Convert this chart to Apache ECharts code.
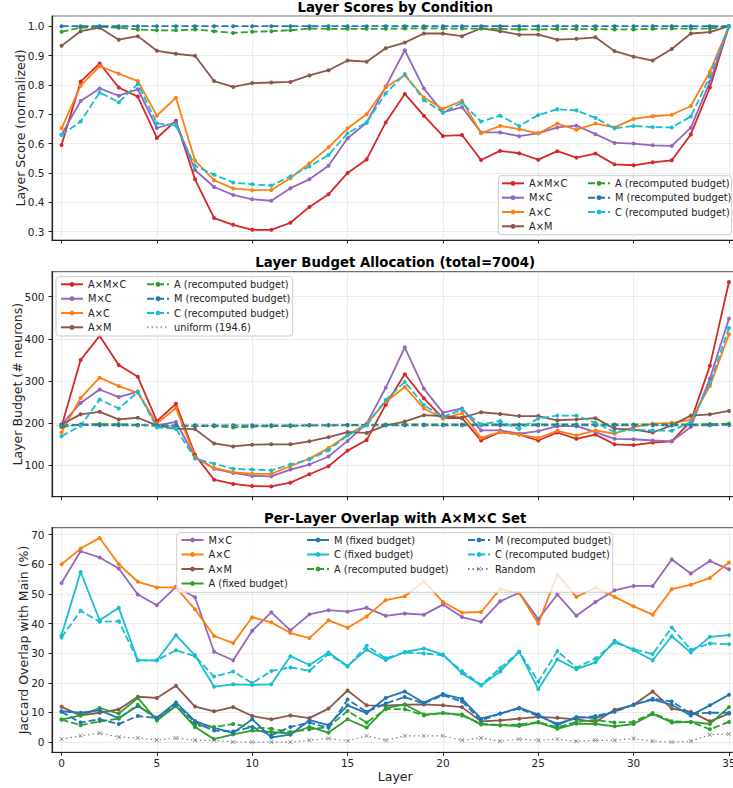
<!DOCTYPE html>
<html>
<head>
<meta charset="utf-8">
<script src="https://cdn.jsdelivr.net/npm/echarts@6/dist/echarts.min.js"></script>
<style>
  html, body { margin: 0; padding: 0; background: #ffffff; }
  #chart { width: 733px; height: 788px; }
</style>
</head>
<body>
<div id="chart"></div>
<script>
// ---- data -------------------------------------------------------------
const layers = [0,1,2,3,4,5,6,7,8,9,10,11,12,13,14,15,16,17,18,19,20,21,22,23,24,25,26,27,28,29,30,31,32,33,34,35];
const layerTicks = [0,5,10,15,20,25,30,35];

// Layer scores (normalized)
const scoreAMC = [0.595,0.811,0.873,0.791,0.760,0.619,0.678,0.478,0.346,0.323,0.306,0.306,0.330,0.384,0.427,0.500,0.546,0.672,0.769,0.695,0.626,0.629,0.544,0.575,0.567,0.545,0.574,0.552,0.566,0.529,0.526,0.536,0.543,0.631,0.791,1.000];
const scoreMC  = [0.630,0.745,0.788,0.763,0.785,0.653,0.672,0.510,0.452,0.425,0.410,0.405,0.448,0.478,0.524,0.618,0.671,0.794,0.918,0.788,0.706,0.724,0.638,0.638,0.625,0.635,0.655,0.661,0.632,0.602,0.600,0.594,0.592,0.654,0.810,1.000];
const scoreAC  = [0.652,0.797,0.864,0.838,0.813,0.695,0.756,0.542,0.475,0.447,0.441,0.442,0.482,0.533,0.587,0.652,0.700,0.792,0.833,0.757,0.718,0.746,0.635,0.660,0.649,0.635,0.668,0.647,0.668,0.655,0.684,0.693,0.698,0.728,0.845,1.000];
const scoreAM  = [0.933,0.983,0.995,0.954,0.966,0.916,0.906,0.899,0.813,0.793,0.806,0.808,0.810,0.832,0.850,0.883,0.879,0.925,0.944,0.975,0.975,0.966,0.993,0.983,0.971,0.971,0.954,0.957,0.962,0.915,0.896,0.883,0.922,0.975,0.980,1.000];
const scoreARe = [0.981,0.995,0.998,0.995,0.989,0.986,0.986,0.989,0.983,0.977,0.981,0.983,0.986,0.992,0.991,0.991,0.991,0.991,0.992,0.993,0.992,0.992,0.992,0.991,0.989,0.989,0.990,0.990,0.990,0.989,0.989,0.991,0.992,0.992,0.992,1.000];
const scoreMRe = [1.000,1.000,1.000,1.000,1.000,1.000,1.000,1.000,1.000,1.000,1.000,1.000,1.000,1.000,1.000,1.000,1.000,1.000,1.000,1.000,1.000,1.000,1.000,1.000,1.000,1.000,1.000,1.000,1.000,1.000,1.000,1.000,1.000,1.000,1.000,1.000];
const scoreCRe = [0.629,0.675,0.774,0.741,0.803,0.669,0.661,0.524,0.494,0.467,0.461,0.457,0.488,0.522,0.561,0.635,0.672,0.771,0.837,0.748,0.706,0.739,0.675,0.695,0.660,0.697,0.717,0.713,0.687,0.652,0.660,0.656,0.655,0.692,0.830,1.000];

// Layer budget allocation (# neurons)
const budgetTotal = 7004;
const uniformBudget = 194.6;
const budAMC = [192,350,407,338,310,205,246,125,66,56,51,50,59,79,98,135,160,244,316,259,212,212,159,179,173,159,178,163,173,150,148,154,157,205,336,535];
const budMC  = [197,248,280,262,275,195,203,120,92,82,75,74,90,102,121,158,199,284,380,282,225,235,183,183,175,181,193,193,179,163,162,159,157,191,306,448];
const budAC  = [178,260,308,288,272,200,236,120,94,84,80,80,98,116,141,172,199,251,286,235,211,224,165,179,173,165,182,171,183,175,191,199,201,208,288,411];
const budAM  = [197,221,227,209,213,195,187,186,152,145,149,150,150,157,167,179,177,195,204,219,217,213,226,222,217,217,207,209,212,187,185,178,195,218,221,229];
const budARe = [191,197,198,198,196,194,194,193,193,190,192,193,193,195,195,196,196,197,197,197,197,197,197,197,197,197,197,197,197,197,197,197,197,197,198,199];
const budMRe = [195,196,195,195,195,195,195,195,195,195,195,195,195,195,195,195,195,195,195,195,195,195,195,195,195,195,195,195,195,195,195,195,195,195,195,196];
const budCRe = [169,194,256,235,274,190,187,116,104,92,90,88,102,114,136,171,195,255,298,243,215,232,197,205,186,211,218,218,201,179,185,183,182,203,294,426];

// Jaccard overlap with the A×M×C set (%)
const ovMC   = [53.7,64.4,62.3,58.6,49.8,46.2,52.4,48.9,30.5,27.6,37.6,43.8,37.7,43.1,44.5,44.0,45.3,42.6,43.4,43.0,46.4,42.2,40.6,47.5,50.4,41.5,49.8,42.6,47.3,51.2,52.7,52.7,61.6,56.9,61.1,58.3];
const ovAC   = [60.0,65.3,68.9,60.0,54.1,52.2,52.2,44.8,35.8,33.4,42.1,40.4,36.8,35.1,41.1,38.6,42.4,47.9,49.2,54.3,47.3,43.7,43.9,51.6,50.3,40.0,56.6,49.0,52.1,49.0,45.8,43.0,51.6,53.1,55.4,60.6];
const ovAM   = [11.9,9.0,9.9,11.0,15.3,14.9,19.0,12.0,10.4,11.8,8.8,7.7,9.0,8.1,11.3,17.4,12.4,12.3,12.6,12.7,12.4,11.8,7.0,7.3,7.9,8.5,8.2,7.7,6.8,10.9,12.6,17.1,11.3,10.2,7.0,9.6];
const ovAFix = [7.6,9.0,11.5,9.6,14.9,7.3,12.2,5.1,1.0,2.6,3.9,3.4,2.9,5.1,3.2,7.7,4.9,11.5,12.7,9.3,9.8,9.3,5.9,5.7,5.4,6.6,4.5,6.2,6.1,5.3,6.1,9.5,6.6,6.8,6.1,11.8];
const ovMFix = [10.4,9.9,10.7,8.1,12.2,8.2,13.4,7.1,4.8,3.1,7.7,1.6,2.5,7.4,5.7,12.4,9.8,14.9,17.1,13.3,16.2,14.6,7.9,9.6,11.6,9.3,5.7,8.5,8.1,10.4,12.6,14.3,12.6,9.0,12.4,16.0];
const ovCFix = [36.1,57.4,41.1,45.3,27.6,27.6,36.1,29.3,18.7,19.5,19.3,19.5,29.0,26.0,30.2,25.7,31.2,27.7,30.4,31.6,29.6,23.2,19.1,23.8,30.5,17.9,27.9,24.6,26.9,34.2,31.0,27.6,35.7,30.2,35.5,36.1];
const ovARe  = [7.6,5.7,7.0,7.9,12.6,7.6,12.2,5.7,5.1,6.1,5.0,4.5,3.4,4.3,5.1,10.5,6.6,11.1,11.1,9.0,9.8,9.0,6.2,5.7,5.9,6.8,5.0,6.8,7.5,6.6,6.8,9.8,7.0,6.8,4.3,6.8];
const ovMRe  = [10.2,6.6,7.7,6.1,8.8,8.1,12.8,6.6,3.9,3.6,5.1,2.3,5.1,6.6,4.8,14.4,10.2,13.0,15.2,13.0,15.8,13.7,7.3,9.6,11.3,8.8,6.2,8.1,8.8,10.2,12.6,14.6,13.7,9.6,9.9,9.9];
const ovCRe  = [35.3,44.3,40.6,40.8,27.6,27.6,31.0,29.0,22.1,23.8,19.9,24.0,25.2,24.1,29.7,25.5,32.5,28.3,30.2,29.9,29.3,24.0,19.3,24.9,30.5,20.4,30.7,25.1,28.2,33.6,31.3,29.7,38.7,31.2,33.3,33.0];
const ovRand = [1.0,2.1,3.0,1.7,1.4,0.7,1.4,0.6,0.6,0.05,0,0,0,0.6,1.2,0.4,2.1,0.6,2.1,2.1,2.1,0.6,1.4,0.3,1.0,0.6,1.0,0.3,0.6,0.6,1.2,0.3,0,0.3,2.5,2.7];

const scoreTicks = [0.3,0.4,0.5,0.6,0.7,0.8,0.9,1.0];
const budgetTicks = [100,200,300,400,500];
const overlapTicks = [0,10,20,30,40,50,60,70];

// ---- styling ----------------------------------------------------------
const FONT = '"DejaVu Sans", "Liberation Sans", sans-serif';
const INK = '#222222';
const C = {
  red: '#d62728', purple: '#9467bd', orange: '#ff7f0e', brown: '#8c564b',
  green: '#2ca02c', blue: '#1f77b4', cyan: '#17becf', gray: '#7f7f7f'
};
const DASH = [7, 3];
const DOT = [1.5, 3];
const X_SYMBOL = 'path://M0,1L1,0L5,4L9,0L10,1L6,5L10,9L9,10L5,6L1,10L0,9L4,5Z';

// panel layout: grid left edge, width, and vertical extents
const GRID_LEFT = 52, GRID_WIDTH = 686.5;
const panels = [
  { top: 16,    height: 224 },
  { top: 271.7, height: 225 },
  { top: 527.7, height: 224.6 }
];

// 5% padding around the data extent
function padded(arrays) {
  let lo = Infinity, hi = -Infinity;
  arrays.forEach(a => a.forEach(v => { lo = Math.min(lo, v); hi = Math.max(hi, v); }));
  const m = (hi - lo) * 0.05;
  return [lo - m, hi + m];
}

function lineSeries(name, values, color, grid, dashed, extra) {
  return Object.assign({
    type: 'line',
    name: name,
    xAxisIndex: grid,
    yAxisIndex: grid,
    data: layers.map((l, i) => [l, values[i]]),
    symbol: 'circle',
    symbolSize: 4,
    showSymbol: true,
    lineStyle: { color: color, width: 1.8, type: dashed ? DASH : 'solid' },
    itemStyle: { color: color },
    emphasis: { disabled: true },
    animation: false,
    clip: false
  }, extra || {});
}

function xAxis(grid) {
  const last = grid === 2;
  return {
    type: 'value', gridIndex: grid, min: -0.5, max: 35.5,
    name: last ? 'Layer' : '', nameLocation: 'middle', nameGap: 18,
    nameTextStyle: { fontFamily: FONT, fontSize: 12.5, color: INK },
    axisLine: { show: true, onZero: false, lineStyle: { color: INK, width: 1.2 } },
    axisTick: { show: true, length: 3.5, customValues: layerTicks, lineStyle: { color: INK, width: 1 } },
    axisLabel: { show: last, customValues: layerTicks, margin: 5, fontFamily: FONT, fontSize: 10.5, color: INK },
    splitLine: { show: true, lineStyle: { color: '#e6e6e6', width: 0.8 } }
  };
}

function yAxis(grid, range, ticks, fmt, name, gap) {
  return {
    type: 'value', gridIndex: grid, min: range[0], max: range[1],
    name: name, nameLocation: 'middle', nameRotate: 90, nameGap: gap,
    nameMoveOverlap: false,
    nameTextStyle: { fontFamily: FONT, fontSize: 12.5, color: INK },
    axisLine: { show: true, onZero: false, lineStyle: { color: INK, width: 1.2 } },
    axisTick: { show: true, length: 3.5, customValues: ticks, lineStyle: { color: INK, width: 1 } },
    axisLabel: { customValues: ticks, formatter: fmt, margin: 7.5, fontFamily: FONT, fontSize: 10.5, color: INK },
    splitLine: { show: true, lineStyle: { color: '#e6e6e6', width: 0.8 } }
  };
}

function legendItem(name, x, yCenter, dataItem) {
  return {
    data: [dataItem || name],
    left: x, top: yCenter - 5,
    padding: 0, itemGap: 0,
    itemWidth: 22, itemHeight: 6,
    selectedMode: false,
    z: 30,
    textStyle: { fontFamily: FONT, fontSize: 9.8, color: INK }
  };
}

function legendColumn(names, x, rows) {
  return names.map((n, i) => legendItem(n, x, rows[i]));
}

function frame(x, y, w, h) {
  return {
    type: 'rect', z: 20, silent: true,
    shape: { x: x, y: y, width: w, height: h, r: 3 },
    style: { fill: 'rgba(255,255,255,0.8)', stroke: '#cccccc', lineWidth: 1 }
  };
}

const uniformName = 'uniform (' + uniformBudget + ')';

// ---- series -----------------------------------------------------------
const series = [
  // scores
  lineSeries('A×M×C', scoreAMC, C.red, 0, false),
  lineSeries('M×C', scoreMC, C.purple, 0, false),
  lineSeries('A×C', scoreAC, C.orange, 0, false),
  lineSeries('A×M', scoreAM, C.brown, 0, false),
  lineSeries('A (recomputed budget)', scoreARe, C.green, 0, true),
  lineSeries('M (recomputed budget)', scoreMRe, C.blue, 0, true),
  lineSeries('C (recomputed budget)', scoreCRe, C.cyan, 0, true),
  // budgets
  lineSeries('A×M×C', budAMC, C.red, 1, false),
  lineSeries('M×C', budMC, C.purple, 1, false),
  lineSeries('A×C', budAC, C.orange, 1, false),
  lineSeries('A×M', budAM, C.brown, 1, false),
  lineSeries('A (recomputed budget)', budARe, C.green, 1, true),
  lineSeries('M (recomputed budget)', budMRe, C.blue, 1, true),
  lineSeries('C (recomputed budget)', budCRe, C.cyan, 1, true),
  {
    type: 'line', name: uniformName, xAxisIndex: 1, yAxisIndex: 1, data: [],
    symbol: 'none', animation: false,
    lineStyle: { color: '#999999', width: 1, type: DOT },
    itemStyle: { color: 'rgba(0,0,0,0)' },
    markLine: {
      silent: true, symbol: ['none', 'none'], animation: false,
      label: { show: false },
      lineStyle: { color: '#999999', width: 1, type: DOT },
      data: [{ yAxis: uniformBudget }]
    }
  },
  // overlap
  lineSeries('M×C', ovMC, C.purple, 2, false),
  lineSeries('A×C', ovAC, C.orange, 2, false),
  lineSeries('A×M', ovAM, C.brown, 2, false),
  lineSeries('A (fixed budget)', ovAFix, C.green, 2, false),
  lineSeries('M (fixed budget)', ovMFix, C.blue, 2, false),
  lineSeries('C (fixed budget)', ovCFix, C.cyan, 2, false),
  lineSeries('A (recomputed budget)', ovARe, C.green, 2, true),
  lineSeries('M (recomputed budget)', ovMRe, C.blue, 2, true),
  lineSeries('C (recomputed budget)', ovCRe, C.cyan, 2, true),
  lineSeries('Random', ovRand, C.gray, 2, false, {
    symbol: X_SYMBOL, symbolSize: 4.5,
    lineStyle: { color: C.gray, width: 1.2, type: DOT }
  })
];

// ---- legends ------------------------------------------------------------
const rows1 = [183.3, 197.7, 212.0, 226.3];
const rows2 = [284.3, 298.7, 313.0, 327.3];
const rows3 = [540.0, 554.5, 569.0, 583.5];
const legends = [].concat(
  legendColumn(['A×M×C', 'M×C', 'A×C', 'A×M'], 501, rows1),
  legendColumn(['A (recomputed budget)', 'M (recomputed budget)', 'C (recomputed budget)'], 587, rows1),
  legendColumn(['A×M×C', 'M×C', 'A×C', 'A×M'], 60, rows2),
  legendColumn(['A (recomputed budget)', 'M (recomputed budget)', 'C (recomputed budget)'], 146, rows2),
  [legendItem(uniformName, 146, rows2[3], { name: uniformName, itemStyle: { color: 'rgba(0,0,0,0)', borderWidth: 0 } })],
  legendColumn(['M×C', 'A×C', 'A×M', 'A (fixed budget)'], 180.5, rows3),
  legendColumn(['M (fixed budget)', 'C (fixed budget)', 'A (recomputed budget)'], 306, rows3),
  legendColumn(['M (recomputed budget)', 'C (recomputed budget)', 'Random'], 467, rows3)
);

// ---- titles -----------------------------------------------------------
const titleX = GRID_LEFT + GRID_WIDTH / 2;
function title(text, y) {
  return {
    text: text, left: titleX, top: y, padding: 0,
    textAlign: 'center', textVerticalAlign: 'middle',
    textStyle: { fontFamily: FONT, fontSize: 13.3, fontWeight: 'bold', color: '#000000' }
  };
}

const option = {
  animation: false,
  backgroundColor: '#ffffff',
  title: [
    title('Layer Scores by Condition', 7),
    title('Layer Budget Allocation (total=' + budgetTotal + ')', 262.5),
    title('Per-Layer Overlap with A×M×C Set', 518.5)
  ],
  grid: panels.map(p => ({
    left: GRID_LEFT, top: p.top, width: GRID_WIDTH, height: p.height,
    show: true, borderColor: '#6e6e6e', borderWidth: 1.2, backgroundColor: 'transparent',
    containLabel: false, outerBoundsMode: 'none'
  })),
  xAxis: [xAxis(0), xAxis(1), xAxis(2)],
  yAxis: [
    yAxis(0, padded([scoreAMC, scoreMC, scoreAC, scoreAM, scoreARe, scoreMRe, scoreCRe]), scoreTicks,
          v => v.toFixed(1), 'Layer Score (normalized)', 25),
    yAxis(1, padded([budAMC, budMC, budAC, budAM, budARe, budMRe, budCRe]), budgetTicks,
          v => String(v), 'Layer Budget (# neurons)', 28.5),
    yAxis(2, padded([ovMC, ovAC, ovAM, ovAFix, ovMFix, ovCFix, ovARe, ovMRe, ovCRe, ovRand]), overlapTicks,
          v => String(v), 'Jaccard Overlap with Main (%)', 22)
  ],
  legend: legends,
  graphic: [
    frame(498.3, 175.7, 233.4, 59),
    frame(56, 276.7, 236.7, 59.3),
    frame(176.7, 532.7, 436, 59.6)
  ],
  series: series
};

const chart = echarts.init(document.getElementById('chart'), null, { renderer: 'svg', width: 733, height: 788 });
chart.setOption(option);
</script>
</body>
</html>
